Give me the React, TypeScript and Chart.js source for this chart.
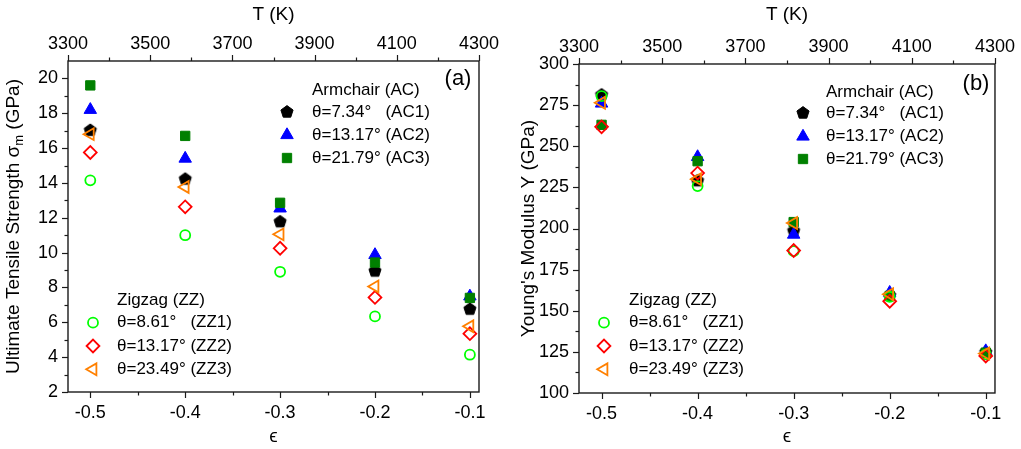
import React, { useEffect, useRef } from 'react';
import { Chart, registerables } from 'chart.js';

Chart.register(...registerables);

const FONT = "'Liberation Sans', Arial, 'DejaVu Sans', sans-serif";

// ---------- data ----------
const strain = [-0.5, -0.4, -0.3, -0.2, -0.1];
const strainTicks = [-0.5, -0.4, -0.3, -0.2, -0.1];
const strainMinorTicks = [-0.45, -0.35, -0.25, -0.15];
const tempTicks = [3300, 3500, 3700, 3900, 4100, 4300];
const tempMinorTicks = [3400, 3600, 3800, 4000, 4200];
const strengthTicks = [2, 4, 6, 8, 10, 12, 14, 16, 18, 20];
const strengthMinorTicks = [3, 5, 7, 9, 11, 13, 15, 17, 19];
const modulusTicks = [100, 125, 150, 175, 200, 225, 250, 275, 300];
const modulusMinorTicks = [112.5, 137.5, 162.5, 187.5, 212.5, 237.5, 262.5, 287.5];

const seriesNames = [
  'θ=7.34°   (AC1)',
  'θ=13.17° (AC2)',
  'θ=21.79° (AC3)',
  'θ=8.61°   (ZZ1)',
  'θ=13.17° (ZZ2)',
  'θ=23.49° (ZZ3)',
];

const strengthAC1 = [17.05, 14.25, 11.8, 8.97, 6.78];
const strengthAC2 = [18.2, 15.4, 12.54, 9.87, 7.49];
const strengthAC3 = [19.6, 16.7, 12.86, 9.43, 7.4];
const strengthZZ1 = [14.15, 11.0, 8.9, 6.34, 4.14];
const strengthZZ2 = [15.75, 12.63, 10.25, 7.43, 5.35];
const strengthZZ3 = [16.8, 13.77, 11.05, 8.06, 5.77];

const modulusAC1 = [281.5, 229.3, 198.8, 159.5, 125];
const modulusAC2 = [276, 243.5, 196.3, 161, 125.5];
const modulusAC3 = [263, 240.9, 203.9, 159, 124.5];
const modulusZZ1 = [280.5, 225.8, 186.2, 158.5, 123.5];
const modulusZZ2 = [261.8, 233.7, 186.6, 155.8, 122.5];
const modulusZZ3 = [276.4, 230, 203.3, 160, 124];

// ---------- styles ----------
type Marker = { shape: string; color: string; filled: boolean; r: number };
const markerStyles: Marker[] = [
  { shape: 'pentagon', color: '#000000', filled: true, r: 6.4 },
  { shape: 'triangle', color: '#0000ff', filled: true, r: 7.2 },
  { shape: 'rect', color: '#008000', filled: true, r: 6.6 },
  { shape: 'circle', color: '#00ff00', filled: false, r: 5 },
  { shape: 'rectRot', color: '#ff0000', filled: false, r: 6.4 },
  { shape: 'triangleLeft', color: '#ff8000', filled: false, r: 6.8 },
];

function pathMarker(ctx: CanvasRenderingContext2D, m: Marker, x: number, y: number) {
  const r = m.r;
  ctx.beginPath();
  if (m.shape === 'circle') {
    ctx.arc(x, y, r, 0, Math.PI * 2);
  } else if (m.shape === 'rect') {
    const s = r * Math.SQRT1_2;
    ctx.rect(x - s, y - s, 2 * s, 2 * s);
  } else if (m.shape === 'rectRot') {
    ctx.moveTo(x - r, y);
    ctx.lineTo(x, y - r);
    ctx.lineTo(x + r, y);
    ctx.lineTo(x, y + r);
    ctx.closePath();
  } else if (m.shape === 'triangle' || m.shape === 'triangleLeft') {
    let rad = m.shape === 'triangle' ? 0 : -Math.PI / 2;
    for (let k = 0; k < 3; k++) {
      const px = x + Math.sin(rad) * r;
      const py = y - Math.cos(rad) * r;
      if (k === 0) ctx.moveTo(px, py);
      else ctx.lineTo(px, py);
      rad += (2 * Math.PI) / 3;
    }
    ctx.closePath();
  } else if (m.shape === 'pentagon') {
    for (let k = 0; k < 5; k++) {
      const a = -Math.PI / 2 + (k * 2 * Math.PI) / 5;
      const px = x + Math.cos(a) * r;
      const py = y + Math.sin(a) * r;
      if (k === 0) ctx.moveTo(px, py);
      else ctx.lineTo(px, py);
    }
    ctx.closePath();
  }
}

function drawMarker(ctx: CanvasRenderingContext2D, m: Marker, x: number, y: number) {
  ctx.save();
  pathMarker(ctx, m, x, y);
  ctx.strokeStyle = m.color;
  if (m.filled) {
    ctx.fillStyle = m.color;
    ctx.fill();
    ctx.lineWidth = 1;
  } else {
    ctx.lineWidth = 1.8;
  }
  ctx.stroke();
  ctx.restore();
}

function makePentagonImage(m: Marker) {
  const c = document.createElement('canvas');
  c.width = 16;
  c.height = 16;
  const ctx = c.getContext('2d')!;
  drawMarker(ctx, m, 8, 8.5);
  return c;
}

type PanelCfg = {
  left: number;
  width: number;
  series: number[][];
  yMin: number;
  yMax: number;
  yTicks: number[];
  yMinorTicks: number[];
  yTitle: string | null;
  area: { left: number; right: number; top: number; bottom: number };
  tag: string;
  tagPos: [number, number];
  acLegend: { marker: number; text: number; rows: number[] };
  zzLegend: { marker: number; text: number; rows: number[] };
  customYTitle: boolean;
};

const TICK_MAJOR = 6;
const TICK_MINOR = 3.5;

function overlayPlugin(cfg: PanelCfg) {
  return {
    id: 'overlay',
    afterDraw(chart: any) {
      const ctx: CanvasRenderingContext2D = chart.ctx;
      const a = chart.chartArea;
      const sx = chart.scales.x;
      const sx2 = chart.scales.x2;
      const sy = chart.scales.y;
      ctx.save();
      ctx.strokeStyle = '#1a1a1a';
      ctx.lineWidth = 1.4;
      ctx.strokeRect(a.left, a.top, a.right - a.left, a.bottom - a.top);
      ctx.lineWidth = 1.2;
      const vTick = (scale: any, vals: number[], len: number, y0: number, dir: number) => {
        vals.forEach((v) => {
          const p = Math.round(scale.getPixelForValue(v)) + 0.5;
          ctx.beginPath();
          ctx.moveTo(p, y0);
          ctx.lineTo(p, y0 + dir * len);
          ctx.stroke();
        });
      };
      vTick(sx, strainTicks, TICK_MAJOR, a.bottom, 1);
      vTick(sx, strainMinorTicks, TICK_MINOR, a.bottom, 1);
      vTick(sx2, tempTicks, TICK_MAJOR, a.top, -1);
      vTick(sx2, tempMinorTicks, TICK_MINOR, a.top, -1);
      const hTick = (vals: number[], len: number) => {
        vals.forEach((v) => {
          const p = Math.round(sy.getPixelForValue(v)) + 0.5;
          ctx.beginPath();
          ctx.moveTo(a.left, p);
          ctx.lineTo(a.left - len, p);
          ctx.stroke();
        });
      };
      hTick(cfg.yTicks, TICK_MAJOR);
      hTick(cfg.yMinorTicks, TICK_MINOR);

      // panel tag
      ctx.fillStyle = '#000';
      ctx.font = `22px ${FONT}`;
      ctx.textAlign = 'center';
      ctx.textBaseline = 'middle';
      ctx.fillText(cfg.tag, cfg.tagPos[0], cfg.tagPos[1]);

      // legends
      ctx.font = `17px ${FONT}`;
      ctx.textAlign = 'left';
      const drawGroup = (lg: { marker: number; text: number; rows: number[] }, header: string, idx: number[]) => {
        ctx.fillStyle = '#000';
        ctx.fillText(header, lg.text, lg.rows[0]);
        idx.forEach((si, k) => {
          const y = lg.rows[k + 1];
          drawMarker(ctx, markerStyles[si], lg.marker, y);
          ctx.fillStyle = '#000';
          ctx.fillText(seriesNames[si], lg.text, y);
        });
      };
      drawGroup(cfg.acLegend, 'Armchair (AC)', [0, 1, 2]);
      drawGroup(cfg.zzLegend, 'Zigzag (ZZ)', [3, 4, 5]);

      // custom y title with subscript
      if (cfg.customYTitle) {
        ctx.save();
        ctx.translate(14, (a.top + a.bottom) / 2);
        ctx.rotate(-Math.PI / 2);
        ctx.textBaseline = 'middle';
        ctx.textAlign = 'left';
        const parts = [
          { t: 'Ultimate Tensile Strength σ', f: `19px ${FONT}`, dy: 0 },
          { t: 'm', f: `13px ${FONT}`, dy: 5 },
          { t: ' (GPa)', f: `19px ${FONT}`, dy: 0 },
        ];
        let total = 0;
        parts.forEach((p) => {
          ctx.font = p.f;
          total += ctx.measureText(p.t).width;
        });
        let x = -total / 2;
        parts.forEach((p) => {
          ctx.font = p.f;
          ctx.fillText(p.t, x, p.dy);
          x += ctx.measureText(p.t).width;
        });
        ctx.restore();
      }
      ctx.restore();
    },
  };
}

function buildConfig(cfg: PanelCfg): any {
  const pentagon = makePentagonImage(markerStyles[0]);
  const datasets = cfg.series
    .map((vals, i) => {
      const m = markerStyles[i];
      let pointStyle: any = m.shape;
      let rotation = 0;
      if (m.shape === 'pentagon') pointStyle = pentagon;
      if (m.shape === 'triangleLeft') {
        pointStyle = 'triangle';
        rotation = -90;
      }
      return {
        label: seriesNames[i],
        data: strain.map((x, j) => ({ x, y: vals[j] })),
        showLine: false,
        pointStyle,
        pointRotation: rotation,
        pointRadius: m.r,
        pointBackgroundColor: m.filled ? m.color : 'rgba(0,0,0,0)',
        pointBorderColor: m.color,
        pointBorderWidth: m.filled ? 1 : 1.8,
        xAxisID: 'x',
        yAxisID: 'y',
      };
    })
    .reverse();

  const W = cfg.width;
  const H = 449;
  const tickFont = { family: FONT, size: 18 };
  const titleFont = { family: FONT, size: 19 };
  const noGrid = { display: false, drawTicks: false };

  return {
    type: 'scatter',
    data: { datasets },
    options: {
      responsive: false,
      animation: false,
      devicePixelRatio: 1,
      events: [],
      layout: { padding: { left: 0, top: 0, right: W - cfg.area.right, bottom: 0 } },
      plugins: { legend: { display: false }, tooltip: { enabled: false } },
      scales: {
        x: {
          type: 'linear',
          position: 'bottom',
          min: -0.5235,
          max: -0.0904,
          grid: noGrid,
          border: { display: false },
          afterBuildTicks: (s: any) => {
            s.ticks = strainTicks.map((value) => ({ value }));
          },
          afterFit: (s: any) => {
            s.height = H - cfg.area.bottom;
          },
          ticks: {
            font: tickFont,
            color: '#000',
            padding: 10,
            maxRotation: 0,
            autoSkip: false,
            callback: (v: any) => Number(v).toFixed(1),
          },
          title: { display: true, text: 'ϵ', font: titleFont, color: '#000', padding: { top: 0, bottom: 1 } },
        },
        x2: {
          type: 'linear',
          position: 'top',
          min: 3300,
          max: 4300,
          grid: noGrid,
          border: { display: false },
          afterBuildTicks: (s: any) => {
            s.ticks = tempTicks.map((value) => ({ value }));
          },
          afterFit: (s: any) => {
            s.height = cfg.area.top;
          },
          ticks: {
            font: tickFont,
            color: '#000',
            padding: 6,
            maxRotation: 0,
            autoSkip: false,
            callback: (v: any) => String(v),
          },
          title: { display: true, text: 'T (K)', font: titleFont, color: '#000', padding: { top: 3, bottom: 0 } },
        },
        y: {
          type: 'linear',
          position: 'left',
          min: cfg.yMin,
          max: cfg.yMax,
          grid: noGrid,
          border: { display: false },
          afterBuildTicks: (s: any) => {
            s.ticks = cfg.yTicks.map((value) => ({ value }));
          },
          afterFit: (s: any) => {
            s.width = cfg.area.left;
          },
          ticks: {
            font: tickFont,
            color: '#000',
            padding: 10,
            autoSkip: false,
            callback: (v: any) => String(v),
          },
          title: {
            display: !!cfg.yTitle,
            text: cfg.yTitle || '',
            font: titleFont,
            color: '#000',
            padding: { top: 7, bottom: 0 },
          },
        },
      },
    },
    plugins: [overlayPlugin(cfg)],
  };
}

function Panel({ cfg }: { cfg: PanelCfg }) {
  const ref = useRef<HTMLCanvasElement>(null);
  useEffect(() => {
    const chart = new Chart(ref.current!, buildConfig(cfg));
    return () => chart.destroy();
  }, []);
  return (
    <canvas
      ref={ref}
      width={cfg.width}
      height={449}
      style={{ position: 'absolute', left: cfg.left, top: 0, width: cfg.width, height: 449 }}
    />
  );
}

const leftPanel: PanelCfg = {
  left: 0,
  width: 510,
  series: [strengthAC1, strengthAC2, strengthAC3, strengthZZ1, strengthZZ2, strengthZZ3],
  yMin: 2,
  yMax: 21,
  yTicks: strengthTicks,
  yMinorTicks: strengthMinorTicks,
  yTitle: null,
  customYTitle: true,
  area: { left: 68, right: 479, top: 61, bottom: 392 },
  tag: '(a)',
  tagPos: [458, 79],
  acLegend: { marker: 287, text: 312, rows: [90, 112, 135, 158] },
  zzLegend: { marker: 93, text: 117, rows: [300.7, 322.7, 346, 369.3] },
};

const rightPanel: PanelCfg = {
  left: 510,
  width: 511,
  series: [modulusAC1, modulusAC2, modulusAC3, modulusZZ1, modulusZZ2, modulusZZ3],
  yMin: 100,
  yMax: 300,
  yTicks: modulusTicks,
  yMinorTicks: modulusMinorTicks,
  yTitle: "Young's Modulus Y (GPa)",
  customYTitle: false,
  area: { left: 69, right: 488, top: 64, bottom: 393 },
  tag: '(b)',
  tagPos: [466, 84],
  acLegend: { marker: 293, text: 316, rows: [92, 113, 136.5, 159] },
  zzLegend: { marker: 94, text: 119, rows: [300.7, 322.7, 346, 369.3] },
};

export default function App() {
  return (
    <div style={{ position: 'absolute', left: 0, top: 0, width: 1021, height: 449, background: '#fff' }}>
      <Panel cfg={leftPanel} />
      <Panel cfg={rightPanel} />
    </div>
  );
}
